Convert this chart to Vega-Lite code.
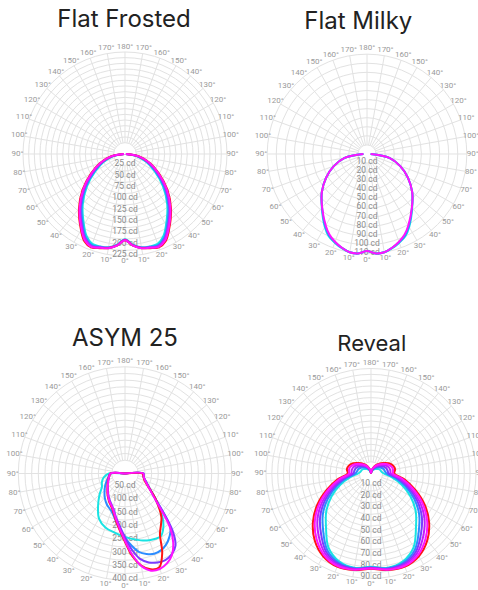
{
  "$schema": "https://vega.github.io/schema/vega-lite/v6.json",
  "padding": 0,
  "background": "white",
  "spacing": 0,
  "resolve": {"scale": {"size": "independent", "x": "independent", "y": "independent"}},
  "config": {"view": {"stroke": null}},
  "datasets": {
    "ang": [
      {"a": 0, "t": "0°"}, {"a": 10, "t": "10°"}, {"a": 20, "t": "20°"}, {"a": 30, "t": "30°"}, {"a": 40, "t": "40°"}, {"a": 50, "t": "50°"}, {"a": 60, "t": "60°"}, {"a": 70, "t": "70°"}, {"a": 80, "t": "80°"}, {"a": 90, "t": "90°"}, {"a": 100, "t": "100°"}, {"a": 110, "t": "110°"}, {"a": 120, "t": "120°"}, {"a": 130, "t": "130°"}, {"a": 140, "t": "140°"}, {"a": 150, "t": "150°"}, {"a": 160, "t": "160°"}, {"a": 170, "t": "170°"}, {"a": 180, "t": "180°"},
      {"a": -10, "t": "10°"}, {"a": -20, "t": "20°"}, {"a": -30, "t": "30°"}, {"a": -40, "t": "40°"}, {"a": -50, "t": "50°"}, {"a": -60, "t": "60°"}, {"a": -70, "t": "70°"}, {"a": -80, "t": "80°"}, {"a": -90, "t": "90°"}, {"a": -100, "t": "100°"}, {"a": -110, "t": "110°"}, {"a": -120, "t": "120°"}, {"a": -130, "t": "130°"}, {"a": -140, "t": "140°"}, {"a": -150, "t": "150°"}, {"a": -160, "t": "160°"}, {"a": -170, "t": "170°"}
    ],
    "ff": [
      {"g": -90, "red": 2, "magenta": 2, "violet": 2, "blue": 2, "cyan": 2},
      {"g": -80, "red": 32, "magenta": 31, "violet": 30, "blue": 28, "cyan": 26},
      {"g": -70, "red": 59, "magenta": 57, "violet": 55, "blue": 52, "cyan": 49},
      {"g": -60, "red": 87, "magenta": 85, "violet": 83, "blue": 79, "cyan": 75},
      {"g": -50, "red": 122, "magenta": 120, "violet": 117, "blue": 113, "cyan": 109},
      {"g": -40, "red": 158, "magenta": 156, "violet": 153, "blue": 149, "cyan": 145},
      {"g": -30, "red": 194, "magenta": 192, "violet": 189, "blue": 185, "cyan": 181},
      {"g": -25, "red": 212, "magenta": 210, "violet": 207, "blue": 204, "cyan": 200},
      {"g": -20, "red": 219, "magenta": 218, "violet": 216, "blue": 214, "cyan": 211},
      {"g": -15, "red": 215, "magenta": 214, "violet": 213, "blue": 212, "cyan": 211},
      {"g": -10, "red": 211, "magenta": 211, "violet": 210, "blue": 210, "cyan": 209},
      {"g": -5, "red": 203, "magenta": 203, "violet": 202, "blue": 202, "cyan": 201},
      {"g": 0, "red": 190, "magenta": 190, "violet": 189, "blue": 189, "cyan": 188},
      {"g": 5, "red": 203, "magenta": 203, "violet": 202, "blue": 202, "cyan": 201},
      {"g": 10, "red": 211, "magenta": 211, "violet": 210, "blue": 210, "cyan": 209},
      {"g": 15, "red": 215, "magenta": 214, "violet": 213, "blue": 212, "cyan": 211},
      {"g": 20, "red": 219, "magenta": 218, "violet": 216, "blue": 214, "cyan": 211},
      {"g": 25, "red": 212, "magenta": 210, "violet": 207, "blue": 204, "cyan": 200},
      {"g": 30, "red": 194, "magenta": 192, "violet": 189, "blue": 185, "cyan": 181},
      {"g": 40, "red": 158, "magenta": 156, "violet": 153, "blue": 149, "cyan": 145},
      {"g": 50, "red": 122, "magenta": 120, "violet": 117, "blue": 113, "cyan": 109},
      {"g": 60, "red": 87, "magenta": 85, "violet": 83, "blue": 79, "cyan": 75},
      {"g": 70, "red": 59, "magenta": 57, "violet": 55, "blue": 52, "cyan": 49},
      {"g": 80, "red": 32, "magenta": 31, "violet": 30, "blue": 28, "cyan": 26},
      {"g": 90, "red": 2, "magenta": 2, "violet": 2, "blue": 2, "cyan": 2}
    ],
    "fm": [
      {"g": -90, "magenta": 4, "blue": 4, "cyan": 4},
      {"g": -80, "magenta": 25, "blue": 25, "cyan": 25},
      {"g": -70, "magenta": 39, "blue": 39, "cyan": 39},
      {"g": -60, "magenta": 52, "blue": 52, "cyan": 52},
      {"g": -50, "magenta": 65, "blue": 65, "cyan": 65},
      {"g": -40, "magenta": 77, "blue": 77, "cyan": 77.5},
      {"g": -30, "magenta": 91, "blue": 92, "cyan": 93},
      {"g": -25, "magenta": 98, "blue": 99, "cyan": 100},
      {"g": -20, "magenta": 103, "blue": 103.5, "cyan": 104},
      {"g": -15, "magenta": 107, "blue": 107, "cyan": 107.5},
      {"g": -10, "magenta": 110, "blue": 110, "cyan": 110},
      {"g": -5, "magenta": 110, "blue": 110, "cyan": 110},
      {"g": 0, "magenta": 107, "blue": 107, "cyan": 107},
      {"g": 5, "magenta": 110, "blue": 110, "cyan": 110},
      {"g": 10, "magenta": 110, "blue": 110, "cyan": 110},
      {"g": 15, "magenta": 107, "blue": 107, "cyan": 107.5},
      {"g": 20, "magenta": 103, "blue": 103.5, "cyan": 104},
      {"g": 25, "magenta": 98, "blue": 99, "cyan": 100},
      {"g": 30, "magenta": 91, "blue": 92, "cyan": 93},
      {"g": 40, "magenta": 77, "blue": 77, "cyan": 77.5},
      {"g": 50, "magenta": 65, "blue": 65, "cyan": 65},
      {"g": 60, "magenta": 52, "blue": 52, "cyan": 52},
      {"g": 70, "magenta": 39, "blue": 39, "cyan": 39},
      {"g": 80, "magenta": 25, "blue": 25, "cyan": 25},
      {"g": 90, "magenta": 4, "blue": 4, "cyan": 4}
    ],
    "as": [
      {"g": -180, "cyan": 0, "blue": 0, "purple": 0, "red": 0, "magenta": 0},
      {"g": -90, "cyan": 60, "blue": 55, "purple": 55, "red": 55, "magenta": 55},
      {"g": -80, "cyan": 80, "blue": 62, "purple": 60, "red": 60, "magenta": 60},
      {"g": -70, "cyan": 92, "blue": 72, "purple": 66, "red": 67, "magenta": 66},
      {"g": -60, "cyan": 100, "blue": 85, "purple": 74, "red": 75, "magenta": 73},
      {"g": -50, "cyan": 125, "blue": 100, "purple": 84, "red": 86, "magenta": 85},
      {"g": -40, "cyan": 157, "blue": 118, "purple": 98, "red": 102, "magenta": 100},
      {"g": -30, "cyan": 195, "blue": 135, "purple": 115, "red": 120, "magenta": 118},
      {"g": -20, "cyan": 215, "blue": 150, "purple": 135, "red": 140, "magenta": 137},
      {"g": -10, "cyan": 225, "blue": 185, "purple": 175, "red": 185, "magenta": 180},
      {"g": 0, "cyan": 238, "blue": 240, "purple": 240, "red": 256, "magenta": 252},
      {"g": 5, "cyan": 245, "blue": 270, "purple": 285, "red": 310, "magenta": 305},
      {"g": 10, "cyan": 252, "blue": 298, "purple": 325, "red": 350, "magenta": 352},
      {"g": 15, "cyan": 260, "blue": 312, "purple": 345, "red": 372, "magenta": 377},
      {"g": 20, "cyan": 266, "blue": 320, "purple": 355, "red": 375, "magenta": 381},
      {"g": 25, "cyan": 270, "blue": 318, "purple": 358, "red": 330, "magenta": 372},
      {"g": 30, "cyan": 270, "blue": 308, "purple": 350, "red": 262, "magenta": 352},
      {"g": 35, "cyan": 250, "blue": 290, "purple": 330, "red": 235, "magenta": 315},
      {"g": 40, "cyan": 220, "blue": 265, "purple": 275, "red": 212, "magenta": 262},
      {"g": 50, "cyan": 150, "blue": 150, "purple": 150, "red": 150, "magenta": 145},
      {"g": 60, "cyan": 104, "blue": 104, "purple": 104, "red": 102, "magenta": 102},
      {"g": 70, "cyan": 82, "blue": 82, "purple": 82, "red": 78, "magenta": 81},
      {"g": 80, "cyan": 71, "blue": 71, "purple": 71, "red": 70, "magenta": 71},
      {"g": 90, "cyan": 69, "blue": 69, "purple": 69, "red": 65, "magenta": 69},
      {"g": 180, "cyan": 0, "blue": 0, "purple": 0, "red": 0, "magenta": 0}
    ],
    "rv": [
      {"g": -180, "red": 0, "magenta": 0, "violet": 0, "purple": 0, "blue": 0, "cyan": 0},
      {"g": -170, "red": 2.5, "magenta": 2.3, "violet": 2, "purple": 1.7, "blue": 1.4, "cyan": 1},
      {"g": -160, "red": 5, "magenta": 4.6, "violet": 4.1, "purple": 3.6, "blue": 3.1, "cyan": 2.5},
      {"g": -150, "red": 8, "magenta": 7.3, "violet": 6.4, "purple": 5.5, "blue": 4.6, "cyan": 3.5},
      {"g": -140, "red": 11, "magenta": 10.1, "violet": 8.9, "purple": 7.7, "blue": 6.5, "cyan": 5},
      {"g": -130, "red": 14, "magenta": 12.8, "violet": 11.2, "purple": 9.6, "blue": 8, "cyan": 6},
      {"g": -120, "red": 17.5, "magenta": 16, "violet": 14, "purple": 12, "blue": 10, "cyan": 7.5},
      {"g": -110, "red": 20, "magenta": 18.3, "violet": 16, "purple": 13.7, "blue": 11.4, "cyan": 8.5},
      {"g": -100, "red": 21, "magenta": 19.2, "violet": 16.8, "purple": 14.4, "blue": 12, "cyan": 9},
      {"g": -90, "red": 20, "magenta": 18.7, "violet": 16.9, "purple": 15.1, "blue": 13.3, "cyan": 11},
      {"g": -80, "red": 29, "magenta": 27.4, "violet": 25.2, "purple": 23, "blue": 20.8, "cyan": 18},
      {"g": -70, "red": 40, "magenta": 38.2, "violet": 35.8, "purple": 33.4, "blue": 31, "cyan": 28},
      {"g": -60, "red": 53, "magenta": 50.9, "violet": 48.1, "purple": 45.3, "blue": 42.5, "cyan": 39},
      {"g": -50, "red": 65, "magenta": 62.8, "violet": 59.8, "purple": 56.8, "blue": 53.8, "cyan": 50},
      {"g": -40, "red": 75, "magenta": 72.8, "violet": 69.8, "purple": 66.8, "blue": 63.8, "cyan": 60},
      {"g": -30, "red": 82, "magenta": 80.7, "violet": 78.9, "purple": 77.1, "blue": 75.3, "cyan": 73},
      {"g": -20, "red": 85, "magenta": 84.3, "violet": 83.3, "purple": 82.3, "blue": 81.3, "cyan": 80},
      {"g": -10, "red": 84, "magenta": 83.7, "violet": 83.3, "purple": 82.9, "blue": 82.5, "cyan": 82},
      {"g": 0, "red": 81.7, "magenta": 81.4, "violet": 81.1, "purple": 80.8, "blue": 80.4, "cyan": 80},
      {"g": 10, "red": 84, "magenta": 83.7, "violet": 83.3, "purple": 82.9, "blue": 82.5, "cyan": 82},
      {"g": 20, "red": 85, "magenta": 84.3, "violet": 83.3, "purple": 82.3, "blue": 81.3, "cyan": 80},
      {"g": 30, "red": 82, "magenta": 80.7, "violet": 78.9, "purple": 77.1, "blue": 75.3, "cyan": 73},
      {"g": 40, "red": 75, "magenta": 72.8, "violet": 69.8, "purple": 66.8, "blue": 63.8, "cyan": 60},
      {"g": 50, "red": 65, "magenta": 62.8, "violet": 59.8, "purple": 56.8, "blue": 53.8, "cyan": 50},
      {"g": 60, "red": 53, "magenta": 50.9, "violet": 48.1, "purple": 45.3, "blue": 42.5, "cyan": 39},
      {"g": 70, "red": 40, "magenta": 38.2, "violet": 35.8, "purple": 33.4, "blue": 31, "cyan": 28},
      {"g": 80, "red": 29, "magenta": 27.4, "violet": 25.2, "purple": 23, "blue": 20.8, "cyan": 18},
      {"g": 90, "red": 20, "magenta": 18.7, "violet": 16.9, "purple": 15.1, "blue": 13.3, "cyan": 11},
      {"g": 100, "red": 21, "magenta": 19.2, "violet": 16.8, "purple": 14.4, "blue": 12, "cyan": 9},
      {"g": 110, "red": 20, "magenta": 18.3, "violet": 16, "purple": 13.7, "blue": 11.4, "cyan": 8.5},
      {"g": 120, "red": 17.5, "magenta": 16, "violet": 14, "purple": 12, "blue": 10, "cyan": 7.5},
      {"g": 130, "red": 14, "magenta": 12.8, "violet": 11.2, "purple": 9.6, "blue": 8, "cyan": 6},
      {"g": 140, "red": 11, "magenta": 10.1, "violet": 8.9, "purple": 7.7, "blue": 6.5, "cyan": 5},
      {"g": 150, "red": 8, "magenta": 7.3, "violet": 6.4, "purple": 5.5, "blue": 4.6, "cyan": 3.5},
      {"g": 160, "red": 5, "magenta": 4.6, "violet": 4.1, "purple": 3.6, "blue": 3.1, "cyan": 2.5},
      {"g": 170, "red": 2.5, "magenta": 2.3, "violet": 2, "purple": 1.7, "blue": 1.4, "cyan": 1},
      {"g": 180, "red": 0, "magenta": 0, "violet": 0, "purple": 0, "blue": 0, "cyan": 0}
    ]
  },
  "vconcat": [
    {
      "spacing": 2,
      "resolve": {"scale": {"size": "independent", "x": "independent", "y": "independent"}},
      "hconcat": [
        {
          "width": 240, "height": 290,
          "layer": [
            {
              "data": {"values": [{"ring": 25}, {"ring": 37.5}, {"ring": 50}, {"ring": 62.5}, {"ring": 75}, {"ring": 87.5}, {"ring": 100}, {"ring": 112.5}, {"ring": 125}, {"ring": 137.5}, {"ring": 150}, {"ring": 162.5}, {"ring": 175}, {"ring": 187.5}, {"ring": 200}, {"ring": 212.5}, {"ring": 225}]},
              "mark": {"type": "point", "shape": "circle", "filled": false, "stroke": "#e2e2e2", "strokeWidth": 1, "opacity": 1},
              "encoding": {
                "x": {"datum": 0, "type": "quantitative", "scale": {"domain": [-275.7, 253.7], "nice": false, "zero": false}, "axis": null},
                "y": {"datum": 0, "type": "quantitative", "scale": {"domain": [-300, 339.7], "nice": false, "zero": false}, "axis": null},
                "size": {"field": "ring", "type": "quantitative", "legend": null, "scale": {"type": "pow", "exponent": 2, "domain": [0, 225], "range": [0, 41616], "zero": true}}
              }
            },
            {
              "data": {"name": "ang"},
              "transform": [
                {"calculate": "25*sin(datum.a*PI/180)", "as": "x1"},
                {"calculate": "-25*cos(datum.a*PI/180)", "as": "y1"},
                {"calculate": "225*sin(datum.a*PI/180)", "as": "xe"},
                {"calculate": "-225*cos(datum.a*PI/180)", "as": "ye"}
              ],
              "mark": {"type": "rule", "stroke": "#e2e2e2", "strokeWidth": 1},
              "encoding": {
                "x": {"field": "x1", "type": "quantitative", "scale": {"domain": [-275.7, 253.7], "nice": false, "zero": false}, "axis": null},
                "y": {"field": "y1", "type": "quantitative", "scale": {"domain": [-300, 339.7], "nice": false, "zero": false}, "axis": null},
                "x2": {"field": "xe"},
                "y2": {"field": "ye"}
              }
            },
            {
              "data": {"values": [{"v": 25, "t": "25 cd"}, {"v": 50, "t": "50 cd"}, {"v": 75, "t": "75 cd"}, {"v": 100, "t": "100 cd"}, {"v": 125, "t": "125 cd"}, {"v": 150, "t": "150 cd"}, {"v": 175, "t": "175 cd"}, {"v": 200, "t": "200 cd"}, {"v": 225, "t": "225 cd"}]},
              "transform": [{"calculate": "-datum.v", "as": "ny"}],
              "mark": {"type": "text", "font": "Roboto", "fontSize": 8.5, "color": "#8c8c8c", "baseline": "middle", "align": "center", "dy": -2},
              "encoding": {
                "x": {"datum": 0, "type": "quantitative", "scale": {"domain": [-275.7, 253.7], "nice": false, "zero": false}, "axis": null},
                "y": {"field": "ny", "type": "quantitative", "scale": {"domain": [-300, 339.7], "nice": false, "zero": false}, "axis": null},
                "text": {"field": "t"}
              }
            },
            {
              "data": {"name": "ang"},
              "transform": [
                {"calculate": "237*sin(datum.a*PI/180)", "as": "lx"},
                {"calculate": "-237*cos(datum.a*PI/180)", "as": "ly"}
              ],
              "mark": {"type": "text", "font": "Roboto", "fontSize": 8, "color": "#9a9a9a", "baseline": "middle", "align": "center"},
              "encoding": {
                "x": {"field": "lx", "type": "quantitative", "scale": {"domain": [-275.7, 253.7], "nice": false, "zero": false}, "axis": null},
                "y": {"field": "ly", "type": "quantitative", "scale": {"domain": [-300, 339.7], "nice": false, "zero": false}, "axis": null},
                "text": {"field": "t"}
              }
            },
            {
              "data": {"name": "ff"},
              "transform": [
                {"fold": ["cyan", "blue", "violet", "red", "magenta"], "as": ["s", "r"]},
                {"calculate": "datum.r*sin(datum.g*PI/180)", "as": "cx"},
                {"calculate": "-datum.r*cos(datum.g*PI/180)", "as": "cy"}
              ],
              "mark": {"type": "line", "interpolate": "catmull-rom", "strokeWidth": 2},
              "encoding": {
                "x": {"field": "cx", "type": "quantitative", "scale": {"domain": [-275.7, 253.7], "nice": false, "zero": false}, "axis": null},
                "y": {"field": "cy", "type": "quantitative", "scale": {"domain": [-300, 339.7], "nice": false, "zero": false}, "axis": null},
                "color": {"field": "s", "type": "nominal", "legend": null, "scale": {"domain": ["cyan", "blue", "purple", "violet", "red", "magenta"], "range": ["#19e3e3", "#2b8cff", "#7a3cff", "#c21cff", "#ff1414", "#ff14ff"]}},
                "order": {"field": "g", "type": "quantitative"}
              }
            },
            {
              "data": {"values": [{"name": "Flat Frosted"}]},
              "mark": {"type": "text", "font": "Inter", "fontSize": 24, "fontWeight": 400, "color": "#222222", "align": "center", "baseline": "alphabetic", "dx": -1},
              "encoding": {
                "x": {"datum": 0, "type": "quantitative", "scale": {"domain": [-275.7, 253.7], "nice": false, "zero": false}, "axis": null},
                "y": {"datum": 280.8, "type": "quantitative", "scale": {"domain": [-300, 339.7], "nice": false, "zero": false}, "axis": null},
                "text": {"field": "name"}
              }
            }
          ]
        },
        {
          "width": 240, "height": 290,
          "layer": [
            {
              "data": {"values": [{"ring": 10}, {"ring": 20}, {"ring": 30}, {"ring": 40}, {"ring": 50}, {"ring": 60}, {"ring": 70}, {"ring": 80}, {"ring": 90}, {"ring": 100}, {"ring": 110}]},
              "mark": {"type": "point", "shape": "circle", "filled": false, "stroke": "#e2e2e2", "strokeWidth": 1, "opacity": 1},
              "encoding": {
                "x": {"datum": 0, "type": "quantitative", "scale": {"domain": [-137.8, 126.75], "nice": false, "zero": false}, "axis": null},
                "y": {"datum": 0, "type": "quantitative", "scale": {"domain": [-149.9, 169.7], "nice": false, "zero": false}, "axis": null},
                "size": {"field": "ring", "type": "quantitative", "legend": null, "scale": {"type": "pow", "exponent": 2, "domain": [0, 110], "range": [0, 39840], "zero": true}}
              }
            },
            {
              "data": {"name": "ang"},
              "transform": [
                {"calculate": "10*sin(datum.a*PI/180)", "as": "x1"},
                {"calculate": "-10*cos(datum.a*PI/180)", "as": "y1"},
                {"calculate": "110*sin(datum.a*PI/180)", "as": "xe"},
                {"calculate": "-110*cos(datum.a*PI/180)", "as": "ye"}
              ],
              "mark": {"type": "rule", "stroke": "#e2e2e2", "strokeWidth": 1},
              "encoding": {
                "x": {"field": "x1", "type": "quantitative", "scale": {"domain": [-137.8, 126.75], "nice": false, "zero": false}, "axis": null},
                "y": {"field": "y1", "type": "quantitative", "scale": {"domain": [-149.9, 169.7], "nice": false, "zero": false}, "axis": null},
                "x2": {"field": "xe"},
                "y2": {"field": "ye"}
              }
            },
            {
              "data": {"values": [{"v": 10, "t": "10 cd"}, {"v": 20, "t": "20 cd"}, {"v": 30, "t": "30 cd"}, {"v": 40, "t": "40 cd"}, {"v": 50, "t": "50 cd"}, {"v": 60, "t": "60 cd"}, {"v": 70, "t": "70 cd"}, {"v": 80, "t": "80 cd"}, {"v": 90, "t": "90 cd"}, {"v": 100, "t": "100 cd"}, {"v": 110, "t": "110 cd"}]},
              "transform": [{"calculate": "-datum.v", "as": "ny"}],
              "mark": {"type": "text", "font": "Roboto", "fontSize": 8.5, "color": "#8c8c8c", "baseline": "middle", "align": "center", "dy": -2},
              "encoding": {
                "x": {"datum": 0, "type": "quantitative", "scale": {"domain": [-137.8, 126.75], "nice": false, "zero": false}, "axis": null},
                "y": {"field": "ny", "type": "quantitative", "scale": {"domain": [-149.9, 169.7], "nice": false, "zero": false}, "axis": null},
                "text": {"field": "t"}
              }
            },
            {
              "data": {"name": "ang"},
              "transform": [
                {"calculate": "116.5*sin(datum.a*PI/180)", "as": "lx"},
                {"calculate": "-116.5*cos(datum.a*PI/180)", "as": "ly"}
              ],
              "mark": {"type": "text", "font": "Roboto", "fontSize": 8, "color": "#9a9a9a", "baseline": "middle", "align": "center"},
              "encoding": {
                "x": {"field": "lx", "type": "quantitative", "scale": {"domain": [-137.8, 126.75], "nice": false, "zero": false}, "axis": null},
                "y": {"field": "ly", "type": "quantitative", "scale": {"domain": [-149.9, 169.7], "nice": false, "zero": false}, "axis": null},
                "text": {"field": "t"}
              }
            },
            {
              "data": {"name": "fm"},
              "transform": [
                {"fold": ["cyan", "blue", "magenta"], "as": ["s", "r"]},
                {"calculate": "datum.r*sin(datum.g*PI/180)", "as": "cx"},
                {"calculate": "-datum.r*cos(datum.g*PI/180)", "as": "cy"}
              ],
              "mark": {"type": "line", "interpolate": "catmull-rom", "strokeWidth": 2},
              "encoding": {
                "x": {"field": "cx", "type": "quantitative", "scale": {"domain": [-137.8, 126.75], "nice": false, "zero": false}, "axis": null},
                "y": {"field": "cy", "type": "quantitative", "scale": {"domain": [-149.9, 169.7], "nice": false, "zero": false}, "axis": null},
                "color": {"field": "s", "type": "nominal", "legend": null, "scale": {"domain": ["cyan", "blue", "purple", "violet", "red", "magenta"], "range": ["#19e3e3", "#2b8cff", "#7a3cff", "#c21cff", "#ff1414", "#ff14ff"]}},
                "order": {"field": "g", "type": "quantitative"}
              }
            },
            {
              "data": {"values": [{"name": "Flat Milky"}]},
              "mark": {"type": "text", "font": "Inter", "fontSize": 24, "fontWeight": 400, "color": "#222222", "align": "center", "baseline": "alphabetic", "dx": -8.7},
              "encoding": {
                "x": {"datum": 0, "type": "quantitative", "scale": {"domain": [-137.8, 126.75], "nice": false, "zero": false}, "axis": null},
                "y": {"datum": 137.4, "type": "quantitative", "scale": {"domain": [-149.9, 169.7], "nice": false, "zero": false}, "axis": null},
                "text": {"field": "name"}
              }
            }
          ]
        }
      ]
    },
    {
      "spacing": 2,
      "resolve": {"scale": {"size": "independent", "x": "independent", "y": "independent"}},
      "hconcat": [
        {
          "width": 240, "height": 300,
          "layer": [
            {
              "data": {"values": [{"ring": 50}, {"ring": 75}, {"ring": 100}, {"ring": 125}, {"ring": 150}, {"ring": 175}, {"ring": 200}, {"ring": 225}, {"ring": 250}, {"ring": 275}, {"ring": 300}, {"ring": 325}, {"ring": 350}, {"ring": 375}, {"ring": 400}]},
              "mark": {"type": "point", "shape": "circle", "filled": false, "stroke": "#e2e2e2", "strokeWidth": 1, "opacity": 1},
              "encoding": {
                "x": {"datum": 0, "type": "quantitative", "scale": {"domain": [-468.6, 431.1], "nice": false, "zero": false}, "axis": null},
                "y": {"datum": 0, "type": "quantitative", "scale": {"domain": [-436.7, 687.9], "nice": false, "zero": false}, "axis": null},
                "size": {"field": "ring", "type": "quantitative", "legend": null, "scale": {"type": "pow", "exponent": 2, "domain": [0, 400], "range": [0, 45540], "zero": true}}
              }
            },
            {
              "data": {"name": "ang"},
              "transform": [
                {"calculate": "50*sin(datum.a*PI/180)", "as": "x1"},
                {"calculate": "-50*cos(datum.a*PI/180)", "as": "y1"},
                {"calculate": "400*sin(datum.a*PI/180)", "as": "xe"},
                {"calculate": "-400*cos(datum.a*PI/180)", "as": "ye"}
              ],
              "mark": {"type": "rule", "stroke": "#e2e2e2", "strokeWidth": 1},
              "encoding": {
                "x": {"field": "x1", "type": "quantitative", "scale": {"domain": [-468.6, 431.1], "nice": false, "zero": false}, "axis": null},
                "y": {"field": "y1", "type": "quantitative", "scale": {"domain": [-436.7, 687.9], "nice": false, "zero": false}, "axis": null},
                "x2": {"field": "xe"},
                "y2": {"field": "ye"}
              }
            },
            {
              "data": {"values": [{"v": 50, "t": "50 cd"}, {"v": 100, "t": "100 cd"}, {"v": 150, "t": "150 cd"}, {"v": 200, "t": "200 cd"}, {"v": 250, "t": "250 cd"}, {"v": 300, "t": "300 cd"}, {"v": 350, "t": "350 cd"}, {"v": 400, "t": "400 cd"}]},
              "transform": [{"calculate": "-datum.v", "as": "ny"}],
              "mark": {"type": "text", "font": "Roboto", "fontSize": 8.5, "color": "#8c8c8c", "baseline": "middle", "align": "center", "dy": -2},
              "encoding": {
                "x": {"datum": 0, "type": "quantitative", "scale": {"domain": [-468.6, 431.1], "nice": false, "zero": false}, "axis": null},
                "y": {"field": "ny", "type": "quantitative", "scale": {"domain": [-436.7, 687.9], "nice": false, "zero": false}, "axis": null},
                "text": {"field": "t"}
              }
            },
            {
              "data": {"name": "ang"},
              "transform": [
                {"calculate": "421*sin(datum.a*PI/180)", "as": "lx"},
                {"calculate": "-421*cos(datum.a*PI/180)", "as": "ly"}
              ],
              "mark": {"type": "text", "font": "Roboto", "fontSize": 8, "color": "#9a9a9a", "baseline": "middle", "align": "center"},
              "encoding": {
                "x": {"field": "lx", "type": "quantitative", "scale": {"domain": [-468.6, 431.1], "nice": false, "zero": false}, "axis": null},
                "y": {"field": "ly", "type": "quantitative", "scale": {"domain": [-436.7, 687.9], "nice": false, "zero": false}, "axis": null},
                "text": {"field": "t"}
              }
            },
            {
              "data": {"name": "as"},
              "transform": [
                {"fold": ["cyan", "blue", "purple", "red", "magenta"], "as": ["s", "r"]},
                {"calculate": "datum.r*sin(datum.g*PI/180)", "as": "cx"},
                {"calculate": "-datum.r*cos(datum.g*PI/180)", "as": "cy"}
              ],
              "mark": {"type": "line", "interpolate": "catmull-rom", "strokeWidth": 2},
              "encoding": {
                "x": {"field": "cx", "type": "quantitative", "scale": {"domain": [-468.6, 431.1], "nice": false, "zero": false}, "axis": null},
                "y": {"field": "cy", "type": "quantitative", "scale": {"domain": [-436.7, 687.9], "nice": false, "zero": false}, "axis": null},
                "color": {"field": "s", "type": "nominal", "legend": null, "scale": {"domain": ["cyan", "blue", "purple", "violet", "red", "magenta"], "range": ["#19e3e3", "#2b8cff", "#7a3cff", "#c21cff", "#ff1414", "#ff14ff"]}},
                "order": {"field": "g", "type": "quantitative"}
              }
            },
            {
              "data": {"values": [{"name": "ASYM 25"}]},
              "mark": {"type": "text", "font": "Inter", "fontSize": 24, "fontWeight": 400, "color": "#222222", "align": "center", "baseline": "alphabetic"},
              "encoding": {
                "x": {"datum": 0, "type": "quantitative", "scale": {"domain": [-468.6, 431.1], "nice": false, "zero": false}, "axis": null},
                "y": {"datum": 478, "type": "quantitative", "scale": {"domain": [-436.7, 687.9], "nice": false, "zero": false}, "axis": null},
                "text": {"field": "name"}
              }
            }
          ]
        },
        {
          "width": 240, "height": 300,
          "layer": [
            {
              "data": {"values": [{"ring": 10}, {"ring": 15}, {"ring": 20}, {"ring": 25}, {"ring": 30}, {"ring": 35}, {"ring": 40}, {"ring": 45}, {"ring": 50}, {"ring": 55}, {"ring": 60}, {"ring": 65}, {"ring": 70}, {"ring": 75}, {"ring": 80}, {"ring": 85}, {"ring": 90}]},
              "mark": {"type": "point", "shape": "circle", "filled": false, "stroke": "#e2e2e2", "strokeWidth": 1, "opacity": 1},
              "encoding": {
                "x": {"datum": 0, "type": "quantitative", "scale": {"domain": [-107.14, 98.57], "nice": false, "zero": false}, "axis": null},
                "y": {"datum": 0, "type": "quantitative", "scale": {"domain": [-99.86, 157.29], "nice": false, "zero": false}, "axis": null},
                "size": {"field": "ring", "type": "quantitative", "legend": null, "scale": {"type": "pow", "exponent": 2, "domain": [0, 90], "range": [0, 44100], "zero": true}}
              }
            },
            {
              "data": {"name": "ang"},
              "transform": [
                {"calculate": "10*sin(datum.a*PI/180)", "as": "x1"},
                {"calculate": "-10*cos(datum.a*PI/180)", "as": "y1"},
                {"calculate": "90*sin(datum.a*PI/180)", "as": "xe"},
                {"calculate": "-90*cos(datum.a*PI/180)", "as": "ye"}
              ],
              "mark": {"type": "rule", "stroke": "#e2e2e2", "strokeWidth": 1},
              "encoding": {
                "x": {"field": "x1", "type": "quantitative", "scale": {"domain": [-107.14, 98.57], "nice": false, "zero": false}, "axis": null},
                "y": {"field": "y1", "type": "quantitative", "scale": {"domain": [-99.86, 157.29], "nice": false, "zero": false}, "axis": null},
                "x2": {"field": "xe"},
                "y2": {"field": "ye"}
              }
            },
            {
              "data": {"values": [{"v": 10, "t": "10 cd"}, {"v": 20, "t": "20 cd"}, {"v": 30, "t": "30 cd"}, {"v": 40, "t": "40 cd"}, {"v": 50, "t": "50 cd"}, {"v": 60, "t": "60 cd"}, {"v": 70, "t": "70 cd"}, {"v": 80, "t": "80 cd"}, {"v": 90, "t": "90 cd"}]},
              "transform": [{"calculate": "-datum.v", "as": "ny"}],
              "mark": {"type": "text", "font": "Roboto", "fontSize": 8.5, "color": "#8c8c8c", "baseline": "middle", "align": "center", "dy": -2},
              "encoding": {
                "x": {"datum": 0, "type": "quantitative", "scale": {"domain": [-107.14, 98.57], "nice": false, "zero": false}, "axis": null},
                "y": {"field": "ny", "type": "quantitative", "scale": {"domain": [-99.86, 157.29], "nice": false, "zero": false}, "axis": null},
                "text": {"field": "t"}
              }
            },
            {
              "data": {"name": "ang"},
              "transform": [
                {"calculate": "94.7*sin(datum.a*PI/180)", "as": "lx"},
                {"calculate": "-94.7*cos(datum.a*PI/180)", "as": "ly"}
              ],
              "mark": {"type": "text", "font": "Roboto", "fontSize": 8, "color": "#9a9a9a", "baseline": "middle", "align": "center"},
              "encoding": {
                "x": {"field": "lx", "type": "quantitative", "scale": {"domain": [-107.14, 98.57], "nice": false, "zero": false}, "axis": null},
                "y": {"field": "ly", "type": "quantitative", "scale": {"domain": [-99.86, 157.29], "nice": false, "zero": false}, "axis": null},
                "text": {"field": "t"}
              }
            },
            {
              "data": {"name": "rv"},
              "transform": [
                {"fold": ["cyan", "blue", "purple", "violet", "red", "magenta"], "as": ["s", "r"]},
                {"calculate": "datum.r*sin(datum.g*PI/180)", "as": "cx"},
                {"calculate": "-datum.r*cos(datum.g*PI/180)", "as": "cy"}
              ],
              "mark": {"type": "line", "interpolate": "catmull-rom", "strokeWidth": 2},
              "encoding": {
                "x": {"field": "cx", "type": "quantitative", "scale": {"domain": [-107.14, 98.57], "nice": false, "zero": false}, "axis": null},
                "y": {"field": "cy", "type": "quantitative", "scale": {"domain": [-99.86, 157.29], "nice": false, "zero": false}, "axis": null},
                "color": {"field": "s", "type": "nominal", "legend": null, "scale": {"domain": ["cyan", "blue", "purple", "violet", "red", "magenta"], "range": ["#19e3e3", "#2b8cff", "#7a3cff", "#c21cff", "#ff1414", "#ff14ff"]}},
                "order": {"field": "g", "type": "quantitative"}
              }
            },
            {
              "data": {"values": [{"name": "Reveal"}]},
              "mark": {"type": "text", "font": "Inter", "fontSize": 22, "fontWeight": 400, "color": "#222222", "align": "center", "baseline": "alphabetic", "dx": 0.8},
              "encoding": {
                "x": {"datum": 0, "type": "quantitative", "scale": {"domain": [-107.14, 98.57], "nice": false, "zero": false}, "axis": null},
                "y": {"datum": 105, "type": "quantitative", "scale": {"domain": [-99.86, 157.29], "nice": false, "zero": false}, "axis": null},
                "text": {"field": "name"}
              }
            }
          ]
        }
      ]
    }
  ]
}
